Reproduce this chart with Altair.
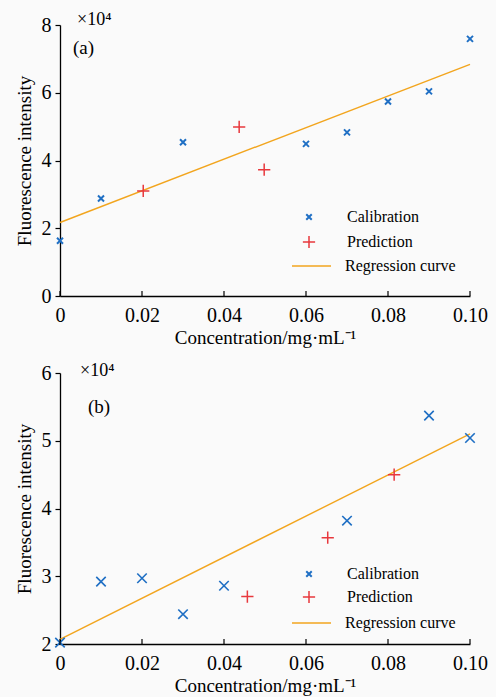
import altair as alt
import pandas as pd

# ---- data ----
x_ticks = [0, 0.02, 0.04, 0.06, 0.08, 0.10]

cal_x_a = [0, 0.01, 0.03, 0.06, 0.07, 0.08, 0.09, 0.10]
cal_y_a = [1.63, 2.88, 4.54, 4.49, 4.83, 5.74, 6.04, 7.59]
pred_x_a = [0.0203, 0.0437, 0.0498]
pred_y_a = [3.10, 4.99, 3.73]
reg_x_a = [0, 0.10]
reg_y_a = [2.17, 6.84]
y_ticks_a = [0, 2, 4, 6, 8]

cal_x_b = [0, 0.01, 0.02, 0.03, 0.04, 0.07, 0.09, 0.10]
cal_y_b = [2.02, 2.92, 2.97, 2.44, 2.86, 3.82, 5.37, 5.04]
pred_x_b = [0.0457, 0.0653, 0.0815]
pred_y_b = [2.70, 3.57, 4.50]
reg_x_b = [0, 0.10]
reg_y_b = [2.07, 5.10]
y_ticks_b = [2, 3, 4, 5, 6]

legend_labels = ["Calibration", "Prediction", "Regression curve"]
panel_tags = ["(a)", "(b)"]
multiplier = "×10⁴"
x_title = "Concentration/mg·mL⁻¹"
y_title = "Fluorescence intensity"

FONT = "Liberation Serif"
BLUE = "#1f6fc4"
RED = "#e8383d"
ORANGE = "#f2a51e"
X_PATH = "M-1,-1L1,1M1,-1L-1,1"
PLUS_PATH = "M-1,0L1,0M0,-1L0,1"
W, H = 410, 271


def panel(cx, cy, px, py, rx, ry, yticks, cal_size, cal_sw, tag, tag_xy, mult_xy, leg_y):
    ydom = [yticks[0], yticks[-1]]
    xenc = alt.X("x:Q", scale=alt.Scale(domain=[0, 0.1], nice=False, zero=False),
                 axis=alt.Axis(values=x_ticks, title=x_title, tickSize=0, labelPadding=9,
                               labelExpr="datum.value == 0 ? '0' : format(datum.value, '.2f')",
                               titlePadding=3, grid=False))
    yenc = alt.Y("y:Q", scale=alt.Scale(domain=ydom, nice=False, zero=False),
                 axis=alt.Axis(values=yticks, title=y_title, tickSize=5, labelPadding=4,
                               format="d", titlePadding=7, grid=False))

    reg = alt.Chart(pd.DataFrame({"x": rx, "y": ry})).mark_line(
        color=ORANGE, strokeWidth=1.4).encode(x=xenc, y=yenc)
    cal = alt.Chart(pd.DataFrame({"x": cx, "y": cy})).mark_point(
        shape=X_PATH, filled=False, color=BLUE, size=cal_size, strokeWidth=cal_sw,
        opacity=1).encode(x=xenc, y=yenc)
    pred = alt.Chart(pd.DataFrame({"x": px, "y": py})).mark_point(
        shape=PLUS_PATH, filled=False, color=RED, size=150, strokeWidth=1.5,
        opacity=1).encode(x=xenc, y=yenc)
    ticks = alt.Chart(pd.DataFrame({"x": x_ticks})).mark_rule(
        color="black", strokeWidth=1.2).encode(x=xenc, y=alt.value(H), y2=alt.value(H - 5))

    def txt(s, x, y, size, align="left"):
        return alt.Chart(pd.DataFrame({"t": [s]})).mark_text(
            font=FONT, fontSize=size, color="black", align=align, baseline="middle").encode(
            x=alt.value(x), y=alt.value(y), text="t:N")

    mult = txt(multiplier, mult_xy[0], mult_xy[1], 18)
    tagm = txt(tag, tag_xy[0], tag_xy[1], 19)

    sym_x, lab_x = 249, 287
    leg_cal = alt.Chart(pd.DataFrame({"t": [legend_labels[0]]})).mark_point(
        shape=X_PATH, filled=False, color=BLUE, size=30, strokeWidth=2, opacity=1).encode(
        x=alt.value(sym_x), y=alt.value(leg_y[0]))
    leg_pred = alt.Chart(pd.DataFrame({"t": [legend_labels[1]]})).mark_point(
        shape=PLUS_PATH, filled=False, color=RED, size=150, strokeWidth=1.5, opacity=1).encode(
        x=alt.value(sym_x), y=alt.value(leg_y[1]))
    leg_line = alt.Chart(pd.DataFrame({"t": [legend_labels[2]]})).mark_rule(
        color=ORANGE, strokeWidth=1.4).encode(
        x=alt.value(sym_x - 17), x2=alt.value(sym_x + 22), y=alt.value(leg_y[2]))
    leg_txt = [txt(legend_labels[i], lab_x if i < 2 else lab_x - 2, leg_y[i], 16) for i in range(3)]

    return alt.layer(reg, cal, pred, ticks, mult, tagm, leg_cal, leg_pred, leg_line, *leg_txt).properties(
        width=W, height=H)


top = panel(cal_x_a, cal_y_a, pred_x_a, pred_y_a, reg_x_a, reg_y_a, y_ticks_a, 36, 2.0,
            panel_tags[0], (13, 23), (17, -5), (192, 217, 241))
bottom = panel(cal_x_b, cal_y_b, pred_x_b, pred_y_b, reg_x_b, reg_y_b, y_ticks_b, 90, 1.6,
               panel_tags[1], (28, 34), (20, -2), (201, 224, 250))

chart = alt.vconcat(top, bottom, spacing=15).properties(
    padding={"left": 15, "top": 11, "right": 8, "bottom": 3},
    background="#fafafa",
).configure_view(stroke=None).configure_axis(
    labelFont=FONT, titleFont=FONT, labelFontSize=20, titleFontSize=19,
    titleFontWeight="normal", labelColor="black", titleColor="black",
    domainColor="black", tickColor="black", domainWidth=1.3, tickWidth=1.2,
    labelFlush=False, labelOverlap=False,
)

chart.save("out.html", embed_options={"renderer": "svg", "actions": False})
